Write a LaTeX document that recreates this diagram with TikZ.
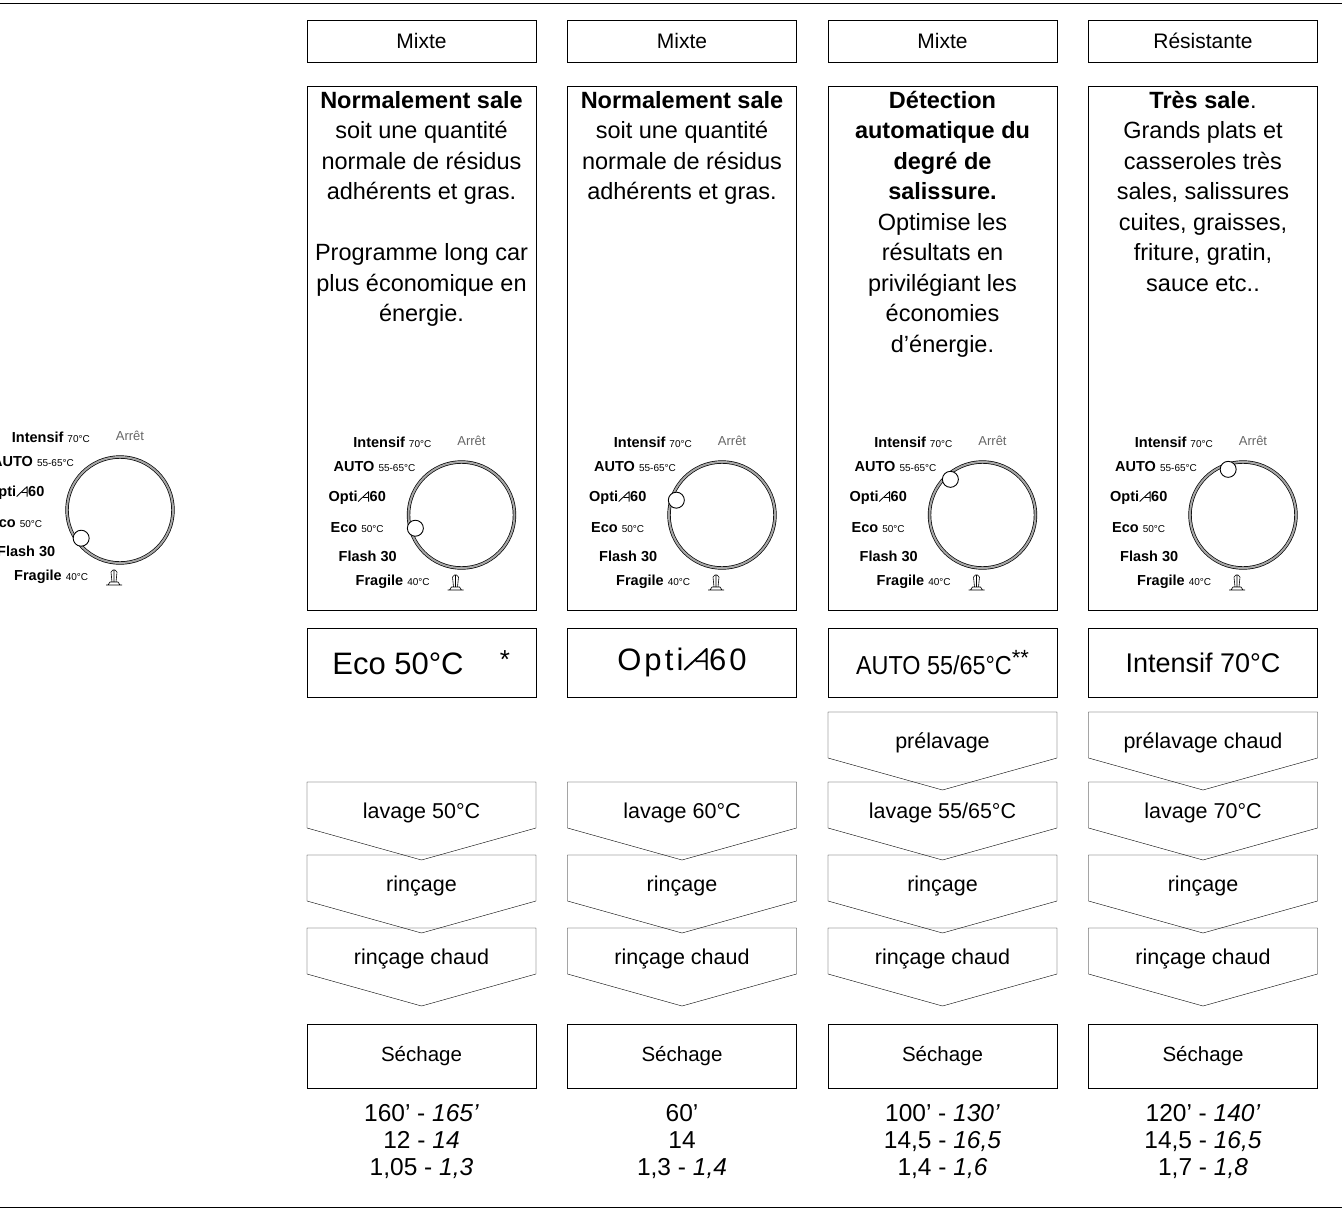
\documentclass[tikz,border=0pt]{standalone}
\usepackage{fontspec}
\setmainfont{Liberation Sans}
\usepackage{graphicx}

% sizes used in the picture
\newcommand{\fs}[2]{\fontsize{#1}{#2}\selectfont}
\newcommand{\dsm}{\mdseries\fs{10}{11}}
% slanted A of the Opti logo
\newcommand{\optiA}{\tikz[baseline=0pt,x=1em,y=1em]\draw[line width=.06em,line join=round] (0,0.02) -- (0.72,0.7) -- (0.72,0.02) (0.36,0.3) -- (0.72,0.3);}
\newcommand{\optiLogo}{Opti\optiA\kern.05em 60}

\tikzset{
  hdrbox/.style={draw, minimum width=229, minimum height=42, inner sep=0, font=\fs{21}{24}},
  descbox/.style={draw, minimum width=229, minimum height=524, inner sep=0},
  progbox/.style={draw, minimum width=229, minimum height=69, inner sep=0},
  dryBox/.style={draw, minimum width=229, minimum height=64, inner sep=0, font=\fs{20.5}{24}},
  desctext/.style={anchor=north, align=center, inner sep=0, font=\fs{23.5}{30.5}},
  steptext/.style={font=\fs{21.5}{24}},
  numtext/.style={anchor=north, align=center, inner sep=0, font=\fs{24.5}{27}},
  dlab/.style={anchor=west, inner sep=0, font=\bfseries\fs{14.5}{15}},
}

% dial: name, centre x, centre y, angle of the notch
\newcommand{\dial}[4]{%
  \begin{scope}[shift={(#2,#3)}]
    \draw[line width=3.4] (0,0) circle (53);
    \draw[line width=2, gray!70] (0,0) circle (53);
    \fill[white] (-#4:48) circle (8);
    \draw[line width=0.9] (-#4:48) circle (8);
    \node[dlab, anchor=east] (#1int) at (-30,-73) {Intensif {\dsm 70°C}};
    \node[font=\fs{13}{14}, text=gray!80!black, inner sep=0] (#1off) at (10,-74) {Arrêt};
    \node[dlab] (#1auto) at (-128,-48) {AUTO {\dsm 55-65°C}};
    \node[dlab] (#1opti) at (-133,-17) {\optiLogo};
    \node[dlab] (#1eco) at (-131,13) {Eco {\dsm 50°C}};
    \node[dlab] (#1flash) at (-123,41) {Flash 30};
    \node[dlab] (#1frag) at (-106,67) {Fragile {\dsm 40°C}};
    % shower symbol
    \draw[line width=0.6] (-14,75) -- (2,75) (-12,75) -- (-10,72) -- (-2,72) -- (0,75)
      (-8,72) -- (-9,62) (-6,72) -- (-6,60) (-4,72) -- (-3,62) (-9,62) -- (-7,60) -- (-5,60) -- (-3,62);
  \end{scope}}

% chevron: name, left x, top y, label
\newcommand{\chevron}[4]{%
  \draw (#2,#3) -- ++(229,0) -- ++(0,46) -- ++(-114.5,32) -- ++(-114.5,-32) -- cycle;
  \node[steptext] (#1) at (#2+114.5,#3+31) {#4};}

\begin{document}
\begin{tikzpicture}[x=1pt, y=-1pt]
  \useasboundingbox (0,0) rectangle (1342,1210);
  \draw (0,3) -- (1342,3);
  \draw (0,1207) -- (1342,1207);

  % --- left dial, cut by the page edge ---
  \begin{scope}
    \clip (0,0) rectangle (300,700);
    \dial{l}{120}{510}{216}
  \end{scope}

  % --- columns ---
  \foreach \i/\kind/\ang in {0/Mixte/196, 1/Mixte/162, 2/Mixte/132, 3/Résistante/108} {
    \pgfmathsetmacro{\xl}{307+260.5*\i}
    \pgfmathsetmacro{\xc}{\xl+114.5}
    \node[hdrbox] (hdr\i) at (\xc,41) {\kind};
    \node[descbox] (desc\i) at (\xc,348) {};
    \node[progbox] (prog\i) at (\xc,662.5) {};
    \node[dryBox] (dry\i) at (\xc,1056) {Séchage};
    \dial{d\i}{\xc+40}{515}{\ang}
  }

  % --- descriptions ---
  \node[desctext] (txt0) at (desc0.north |- 0,91) {\textbf{Normalement sale}\\soit une quantité\\normale de résidus\\adhérents et gras.\\[30.5pt]Programme long car\\plus économique en\\énergie.};
  \node[desctext] (txt1) at (desc1.north |- 0,91) {\textbf{Normalement sale}\\soit une quantité\\normale de résidus\\adhérents et gras.};
  \node[desctext] (txt2) at (desc2.north |- 0,91) {\textbf{Détection}\\\textbf{automatique du}\\\textbf{degré de}\\\textbf{salissure.}\\Optimise les\\résultats en\\privilégiant les\\économies\\d’énergie.};
  \node[desctext] (txt3) at (desc3.north |- 0,91) {\textbf{Très sale}.\\Grands plats et\\casseroles très\\sales, salissures\\cuites, graisses,\\friture, gratin,\\sauce etc..};

  % --- program names ---
  \node[font=\fs{31}{32}] (name0) at (398,664) {Eco 50°C};
  \node[font=\fs{26}{26}] (star0) at (505,660) {*};
  \node[font=\fs{31}{32}\addfontfeature{LetterSpace=10}] (name1) at (prog1.center) {\mdseries\optiLogo};
  \node[font=\fs{26}{30}] (name2) at (prog2.center) {\scalebox{0.9}[1]{AUTO 55/65°C}\raisebox{0.35em}{\fs{22}{22}**}};
  \node[font=\fs{27}{30}] (name3) at (prog3.center) {Intensif 70°C};

  % --- steps ---
  \foreach \i/\pre/\wash/\hot in {0//lavage 50°C/rinçage chaud, 1//lavage 60°C/rinçage chaud,
      2/prélavage/{lavage 55/65°C}/rinçage chaud, 3/prélavage chaud/lavage 70°C/rinçage chaud} {
    \pgfmathsetmacro{\xl}{307+260.5*\i}
    \ifx\pre\empty\else\chevron{pre\i}{\xl}{712}{\pre}\fi
    \chevron{wash\i}{\xl}{782}{\wash}
    \chevron{rinse\i}{\xl}{855}{rinçage}
    \chevron{hot\i}{\xl}{928}{\hot}
  }

  % --- durations and consumption ---
  \node[numtext] (num0) at (dry0.south |- 0,1104) {160’ - \textit{165’}\\12 - \textit{14}\\1,05 - \textit{1,3}};
  \node[numtext] (num1) at (dry1.south |- 0,1104) {60’\\14\\1,3 - \textit{1,4}};
  \node[numtext] (num2) at (dry2.south |- 0,1104) {100’ - \textit{130’}\\14,5 - \textit{16,5}\\1,4 - \textit{1,6}};
  \node[numtext] (num3) at (dry3.south |- 0,1104) {120’ - \textit{140’}\\14,5 - \textit{16,5}\\1,7 - \textit{1,8}};
\end{tikzpicture}
\end{document}
